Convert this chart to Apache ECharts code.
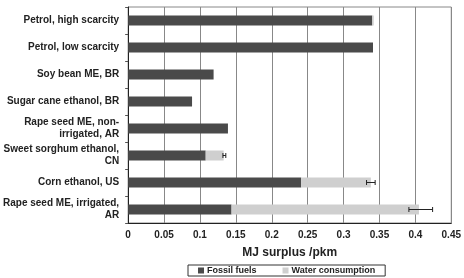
<!DOCTYPE html>
<html>
<head>
<meta charset="utf-8">
<script src="https://cdn.jsdelivr.net/npm/echarts@6/dist/echarts.min.js"></script>
<style>html,body{margin:0;padding:0;background:#fff}#c{width:464px;height:278px}</style>
</head>
<body>
<div id="c"></div>
<script>
const categories = [
  "Petrol, high scarcity",
  "Petrol, low scarcity",
  "Soy bean ME, BR",
  "Sugar cane ethanol, BR",
  "Rape seed ME, non-\nirrigated, AR",
  "Sweet sorghum ethanol,\nCN",
  "Corn ethanol, US",
  "Rape seed ME, irrigated,\nAR"
];
const fossilFuels = [0.340, 0.341, 0.119, 0.089, 0.139, 0.108, 0.241, 0.144];
const waterConsumption = [0.002, 0.000, 0.000, 0.000, 0.000, 0.025, 0.097, 0.261];
const errLow =  [null, null, null, null, null, 0.132, 0.332, 0.391];
const errHigh = [null, null, null, null, null, 0.136, 0.344, 0.424];
const xTicks = {min: 0, max: 0.45, interval: 0.05};

const chart = echarts.init(document.getElementById('c'), null, {renderer: 'canvas'});
const font = 'Liberation Sans, Arial, sans-serif';
const errData = categories.map((c, i) => errLow[i] == null ? null : [i, errLow[i], errHigh[i]]).filter(d => d);

chart.setOption({
  animation: false,
  textStyle: {fontFamily: font},
  grid: {left: 124.7, right: 7.3, top: 7, bottom: 55, show: true, borderColor: '#888', borderWidth: 1},
  xAxis: {
    type: 'value', min: xTicks.min, max: xTicks.max, interval: xTicks.interval,
    name: 'MJ surplus /pkm', nameLocation: 'middle', nameGap: 24,
    nameTextStyle: {fontFamily: font, fontWeight: 'bold', fontSize: 12, color: '#222'},
    axisLine: {show: true, lineStyle: {color: '#222', width: 1}},
    axisTick: {show: false},
    axisLabel: {fontFamily: font, fontWeight: 'bold', fontSize: 10, color: '#222', margin: 7,
      formatter: v => String(+v.toFixed(2))},
    splitLine: {show: true, lineStyle: {color: '#888', width: 1}}
  },
  yAxis: {
    type: 'category', data: categories, inverse: true,
    axisLine: {show: true, lineStyle: {color: '#222', width: 1}},
    axisTick: {show: true, length: 3, lineStyle: {color: '#555'}},
    axisLabel: {fontFamily: font, fontWeight: 'bold', fontSize: 10, color: '#222', margin: 9, lineHeight: 12, align: 'right'},
    splitLine: {show: false}
  },
  legend: {
    left: 188, top: 265, itemWidth: 6, itemHeight: 6, itemGap: 26,
    padding: [1, 10, 1, 10],
    borderColor: '#333', borderWidth: 1,
    icon: 'rect',
    textStyle: {fontFamily: font, fontWeight: 'bold', fontSize: 9, color: '#222', padding: [0, 0, 0, -2]},
    data: ['Fossil fuels', 'Water consumption']
  },
  series: [
    {name: 'Fossil fuels', type: 'bar', stack: 't', data: fossilFuels, barWidth: 10,
      itemStyle: {color: '#4a4a4a'}},
    {name: 'Water consumption', type: 'bar', stack: 't', data: waterConsumption, barWidth: 10,
      itemStyle: {color: '#cfcfcf'}},
    {name: 'err', type: 'custom', data: errData, z: 10,
      encode: {y: 0, x: [1, 2]},
      renderItem: function (params, api) {
        const y = api.value(0);
        const p1 = api.coord([api.value(1), y]);
        const p2 = api.coord([api.value(2), y]);
        const h = 2.5;
        const s = {stroke: '#222', lineWidth: 1};
        return {type: 'group', children: [
          {type: 'line', shape: {x1: p1[0], y1: p1[1], x2: p2[0], y2: p2[1]}, style: s},
          {type: 'line', shape: {x1: p1[0], y1: p1[1] - h, x2: p1[0], y2: p1[1] + h}, style: s},
          {type: 'line', shape: {x1: p2[0], y1: p2[1] - h, x2: p2[0], y2: p2[1] + h}, style: s}
        ]};
      }
    }
  ]
});
</script>
</body>
</html>
